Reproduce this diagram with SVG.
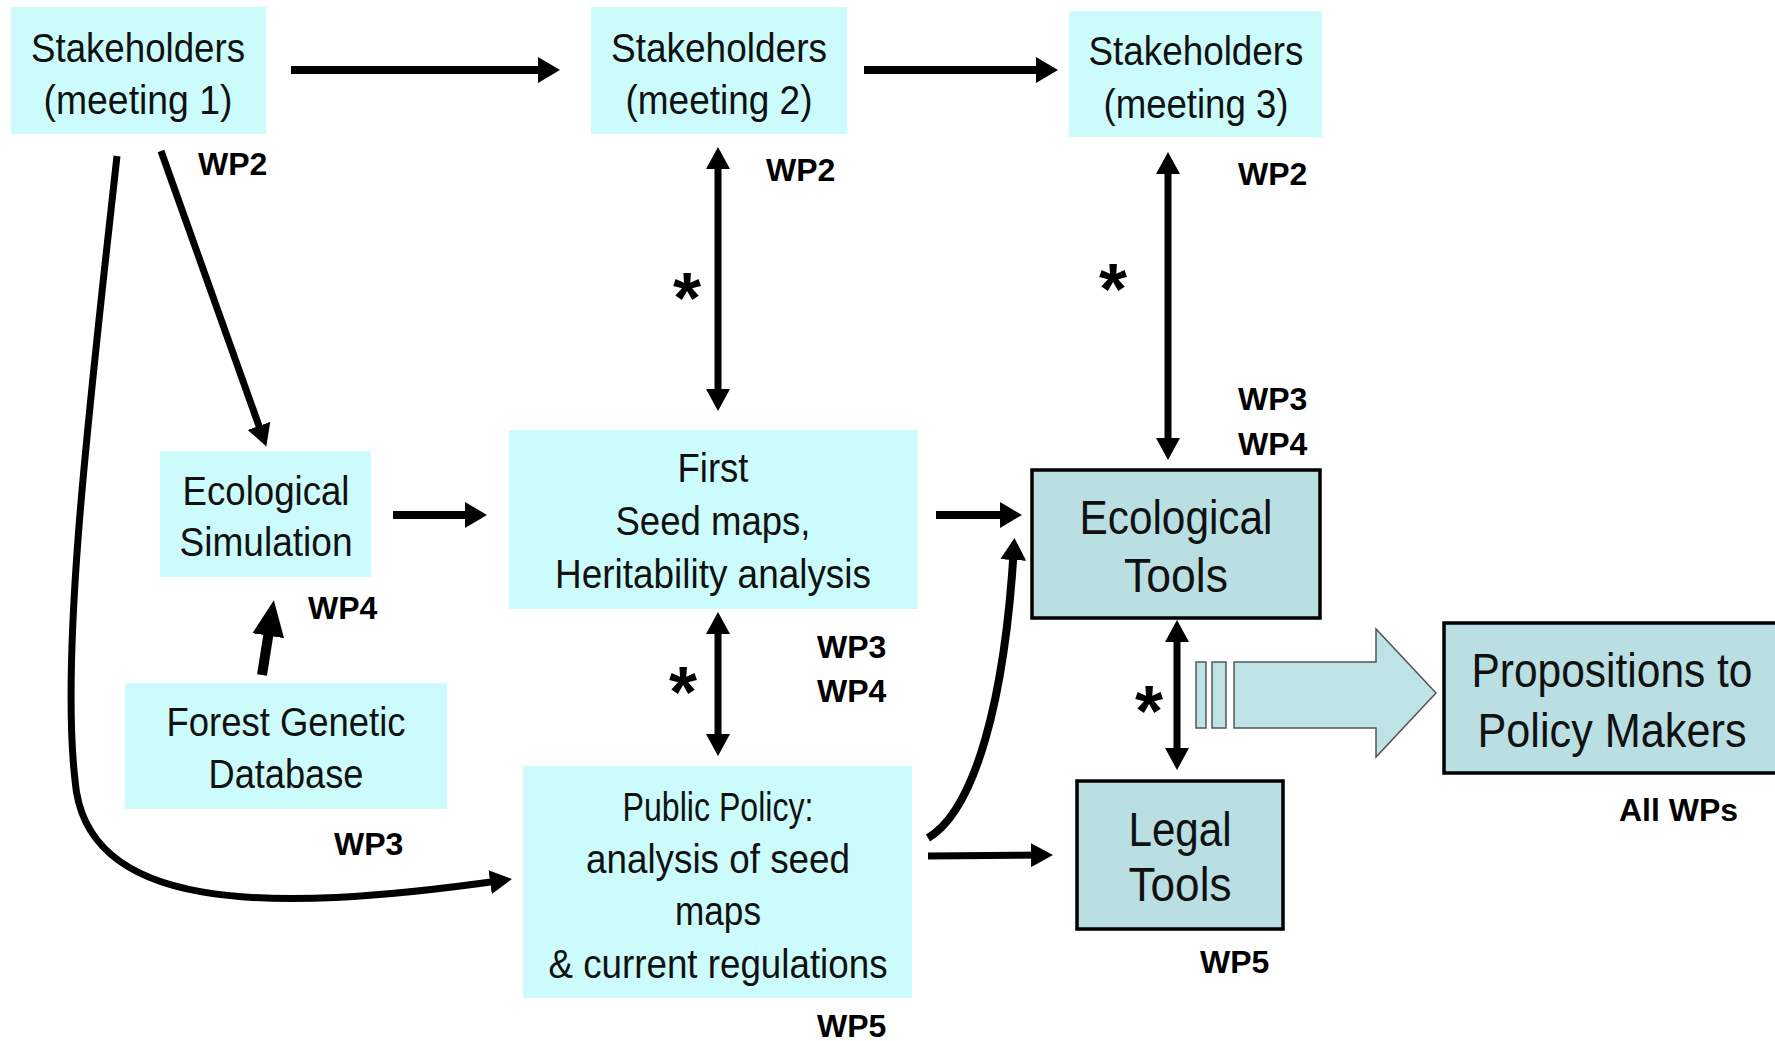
<svg xmlns="http://www.w3.org/2000/svg" width="1775" height="1041" viewBox="0 0 1775 1041">
<style>
.lt{fill:#CCFBFB;stroke:none}
.dk{fill:#B9DFE3;stroke:#000;stroke-width:3.5}
.t{font-family:"Liberation Sans",Arial,sans-serif;font-size:41px;fill:#111;text-anchor:middle}
.tb{font-family:"Liberation Sans",Arial,sans-serif;font-size:48px;fill:#111;text-anchor:middle}
.wp{font-family:"Liberation Sans",Arial,sans-serif;font-size:32px;font-weight:bold;fill:#000}
.ast{font-family:"Liberation Sans",Arial,sans-serif;font-size:72px;font-weight:bold;fill:#000;text-anchor:middle}
.c{fill:none;stroke:#000;stroke-width:7}
.c8{fill:none;stroke:#000;stroke-width:8}
.blk{fill:#BDE3E6;stroke:#555;stroke-width:1.5}
</style>
<defs>
<marker id="a" viewBox="0 0 22 24" refX="15" refY="12" markerWidth="22" markerHeight="24" markerUnits="userSpaceOnUse" orient="auto-start-reverse"><path d="M0,0 L22,12 L0,24 Z" fill="#000"/></marker>
<marker id="b" viewBox="0 0 22 26" refX="14" refY="13" markerWidth="22" markerHeight="26" markerUnits="userSpaceOnUse" orient="auto-start-reverse"><path d="M0,0 L22,13 L0,26 Z" fill="#000"/></marker>
<marker id="c" viewBox="0 0 36 32" refX="24" refY="16" markerWidth="36" markerHeight="32" markerUnits="userSpaceOnUse" orient="auto"><path d="M0,0 L36,16 L0,32 Z" fill="#000"/></marker>
</defs>
<rect width="1775" height="1041" fill="#fff"/>

<g id="connectors">
<path class="c8" d="M291,70 L552,70" marker-end="url(#b)"/>
<path class="c8" d="M864,70 L1050,70" marker-end="url(#b)"/>
<path class="c" d="M718,154 L718,404" marker-start="url(#a)" marker-end="url(#a)"/>
<path class="c" d="M1168,159 L1168,453" marker-start="url(#a)" marker-end="url(#a)"/>
<path class="c" d="M718,619 L718,749" marker-start="url(#a)" marker-end="url(#a)"/>
<path class="c" d="M1177,627 L1177,763" marker-start="url(#a)" marker-end="url(#a)"/>
<path class="c8" d="M393,515 L479,515" marker-end="url(#b)"/>
<path class="c8" d="M936,515 L1014,515" marker-end="url(#b)"/>
<path class="c" d="M928,856 L1046,855" marker-end="url(#a)"/>
<path class="c8" d="M928,838 C975,810 1005,700 1014,546" marker-end="url(#b)"/>
<path class="c" d="M161,151 L264,440" marker-end="url(#a)"/>
<path fill="none" stroke="#000" stroke-width="10" d="M262,675 L272,612" marker-end="url(#c)"/>
<path class="c" d="M117,156 C90,400 60,650 75,780 C85,910 260,915 505,880" marker-end="url(#a)"/>
<path class="blk" d="M1234,662 L1376,662 L1376,629 L1436,693 L1376,757 L1376,728 L1234,728 Z"/>
<rect class="blk" x="1196" y="662" width="10" height="66"/>
<rect class="blk" x="1212" y="662" width="14" height="66"/>
</g>

<g id="n1"><rect class="lt" x="11" y="7" width="255" height="127"/>
<text class="t" x="138" y="62" textLength="214" lengthAdjust="spacingAndGlyphs">Stakeholders</text>
<text class="t" x="138" y="114" textLength="189" lengthAdjust="spacingAndGlyphs">(meeting 1)</text></g>
<g id="n2"><rect class="lt" x="591" y="7" width="256" height="127"/>
<text class="t" x="719" y="62" textLength="216" lengthAdjust="spacingAndGlyphs">Stakeholders</text>
<text class="t" x="719" y="114" textLength="187" lengthAdjust="spacingAndGlyphs">(meeting 2)</text></g>
<g id="n3"><rect class="lt" x="1069" y="11" width="253" height="126"/>
<text class="t" x="1196" y="65" textLength="215" lengthAdjust="spacingAndGlyphs">Stakeholders</text>
<text class="t" x="1196" y="118" textLength="185" lengthAdjust="spacingAndGlyphs">(meeting 3)</text></g>
<g id="n4"><rect class="lt" x="160" y="451" width="211" height="126"/>
<text class="t" x="266" y="505" textLength="167" lengthAdjust="spacingAndGlyphs">Ecological</text>
<text class="t" x="266" y="556" textLength="173" lengthAdjust="spacingAndGlyphs">Simulation</text></g>
<g id="n5"><rect class="lt" x="125" y="683" width="322" height="126"/>
<text class="t" x="286" y="736" textLength="239" lengthAdjust="spacingAndGlyphs">Forest Genetic</text>
<text class="t" x="286" y="788" textLength="155" lengthAdjust="spacingAndGlyphs">Database</text></g>
<g id="n6"><rect class="lt" x="509" y="430" width="409" height="179"/>
<text class="t" x="713" y="482" textLength="71" lengthAdjust="spacingAndGlyphs">First</text>
<text class="t" x="713" y="535" textLength="195" lengthAdjust="spacingAndGlyphs">Seed maps,</text>
<text class="t" x="713" y="588" textLength="316" lengthAdjust="spacingAndGlyphs">Heritability analysis</text></g>
<g id="n7"><rect class="lt" x="523" y="766" width="389" height="232"/>
<text class="t" x="718" y="821" textLength="191" lengthAdjust="spacingAndGlyphs">Public Policy:</text>
<text class="t" x="718" y="873" textLength="264" lengthAdjust="spacingAndGlyphs">analysis of seed</text>
<text class="t" x="718" y="925" textLength="86" lengthAdjust="spacingAndGlyphs">maps</text>
<text class="t" x="718" y="978" textLength="339" lengthAdjust="spacingAndGlyphs">&amp; current regulations</text></g>
<g id="n8"><rect class="dk" x="1032" y="470" width="288" height="148"/>
<text class="tb" x="1176" y="534" textLength="193" lengthAdjust="spacingAndGlyphs">Ecological</text>
<text class="tb" x="1176" y="592" textLength="104" lengthAdjust="spacingAndGlyphs">Tools</text></g>
<g id="n9"><rect class="dk" x="1077" y="781" width="206" height="148"/>
<text class="tb" x="1180" y="846" textLength="103" lengthAdjust="spacingAndGlyphs">Legal</text>
<text class="tb" x="1180" y="901" textLength="103" lengthAdjust="spacingAndGlyphs">Tools</text></g>
<g id="n10"><rect class="dk" x="1444" y="623" width="345" height="150"/>
<text class="tb" x="1612" y="687" textLength="281" lengthAdjust="spacingAndGlyphs">Propositions to</text>
<text class="tb" x="1612" y="747" textLength="269" lengthAdjust="spacingAndGlyphs">Policy Makers</text></g>

<g id="labels">
<text class="wp" x="198" y="175">WP2</text>
<text class="wp" x="766" y="181">WP2</text>
<text class="wp" x="1238" y="185">WP2</text>
<text class="wp" x="1238" y="410">WP3</text>
<text class="wp" x="1238" y="455">WP4</text>
<text class="wp" x="308" y="619">WP4</text>
<text class="wp" x="334" y="855">WP3</text>
<text class="wp" x="817" y="658">WP3</text>
<text class="wp" x="817" y="702">WP4</text>
<text class="wp" x="817" y="1037">WP5</text>
<text class="wp" x="1200" y="973">WP5</text>
<text class="wp" x="1619" y="821">All WPs</text>
<text class="ast" x="687" y="323">*</text>
<text class="ast" x="1113" y="314">*</text>
<text class="ast" x="683" y="717">*</text>
<text class="ast" x="1149" y="736">*</text>
</g>
</svg>
